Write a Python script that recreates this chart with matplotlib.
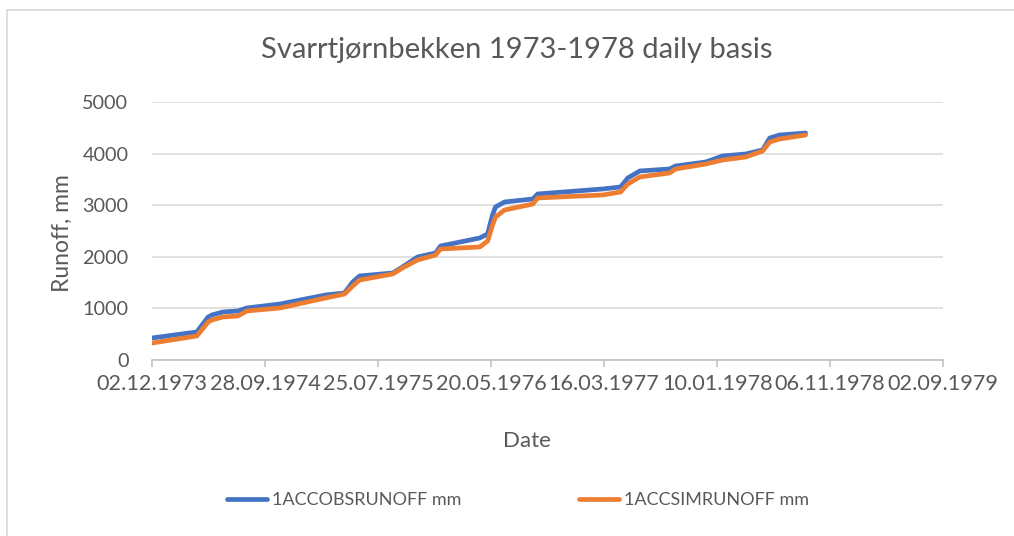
import matplotlib.pyplot as plt
import matplotlib.dates as mdates
from matplotlib.lines import Line2D
import pandas as pd

plt.rcParams['font.family'] = ['Lato', 'DejaVu Sans']

# Accumulated runoff, Svarrtjørnbekken (mm)
dates = ['1973-12-02', '1974-03-31', '1974-04-30', '1974-05-10', '1974-06-08',
         '1974-07-18', '1974-08-11', '1974-11-07', '1975-03-08', '1975-04-27',
         '1975-05-19', '1975-06-06', '1975-09-02', '1975-09-28', '1975-11-07',
         '1975-12-25', '1976-01-07', '1976-04-20', '1976-05-11', '1976-05-24',
         '1976-06-01', '1976-06-25', '1976-09-08', '1976-09-21', '1977-03-12',
         '1977-04-29', '1977-05-18', '1977-06-19', '1977-09-06', '1977-09-22',
         '1977-12-11', '1978-01-25', '1978-03-27', '1978-05-11', '1978-05-30',
         '1978-06-25', '1978-09-02']
obs_runoff = [426, 543, 833, 872, 930, 950, 1008, 1085, 1260, 1298,
              1512, 1628, 1686, 1802, 1996, 2074, 2209, 2364, 2442, 2810,
              2965, 3062, 3120, 3217, 3314, 3353, 3527, 3663, 3702, 3760,
              3837, 3954, 3992, 4070, 4302, 4360, 4399]
sim_runoff = [329, 465, 736, 775, 833, 853, 950, 1008, 1202, 1279,
              1434, 1550, 1667, 1783, 1938, 2035, 2151, 2190, 2306, 2616,
              2771, 2907, 3023, 3140, 3198, 3256, 3411, 3547, 3624, 3702,
              3798, 3876, 3934, 4050, 4225, 4283, 4360]

x_start = pd.Timestamp('1973-12-02')
x_end = pd.Timestamp('1979-09-02')
xticks = pd.date_range(x_start, x_end, freq='300D')

grey = '#595959'

fig = plt.figure(figsize=(10.14, 5.36), dpi=100)
ax = fig.add_axes([0.1499, 0.3284, 0.7801, 0.4813])

t = pd.to_datetime(dates)
ax.plot(t, obs_runoff, color='#4472C4', lw=3.4, solid_capstyle='round',
        solid_joinstyle='round', label='1ACCOBSRUNOFF mm')
ax.plot(t, sim_runoff, color='#ED7D31', lw=3.4, solid_capstyle='round',
        solid_joinstyle='round', label='1ACCSIMRUNOFF mm')

ax.set_xlim(x_start, x_end)
ax.set_ylim(0, 5000)
ax.set_xticks(xticks)
ax.xaxis.set_major_formatter(mdates.DateFormatter('%d.%m.%Y'))
ax.set_yticks(range(0, 5001, 1000))

ax.grid(axis='y', color='#d9d9d9', lw=1.1)
ax.set_axisbelow(True)
for side in ['top', 'right', 'left']:
    ax.spines[side].set_visible(False)
ax.spines['bottom'].set_color('#bfbfbf')
ax.spines['bottom'].set_linewidth(1.1)
ax.tick_params(axis='x', colors='#bfbfbf', length=5, width=1.1, pad=5,
               labelcolor=grey, labelsize=15.6)
ax.tick_params(axis='y', length=0, pad=17, labelcolor=grey, labelsize=14.3)

fig.text(517 / 1014, 1 - 50 / 536, 'Svarrtjørnbekken 1973-1978 daily basis',
         ha='center', va='center', fontsize=21, color=grey)
fig.text(62 / 1014, 1 - 233 / 536, 'Runoff, mm', rotation=90,
         ha='center', va='center', fontsize=16.5, color=grey)
fig.text(527 / 1014, 1 - 441 / 536, 'Date',
         ha='center', va='center', fontsize=16, color=grey)

fig.legend(loc='center', bbox_to_anchor=(518 / 1014, 1 - 500 / 536), ncol=2,
           frameon=False, fontsize=13, labelcolor=grey, handlelength=2.2,
           handletextpad=0.28, columnspacing=6.5)

# outer chart border
fig.add_artist(Line2D([7 / 1014, 7 / 1014], [0, 1 - 10 / 536],
                      transform=fig.transFigure, color='#d9d9d9', lw=1.2))
fig.add_artist(Line2D([7 / 1014, 1], [1 - 10 / 536, 1 - 10 / 536],
                      transform=fig.transFigure, color='#d9d9d9', lw=1.2))

fig.savefig('out.png', dpi=100)
